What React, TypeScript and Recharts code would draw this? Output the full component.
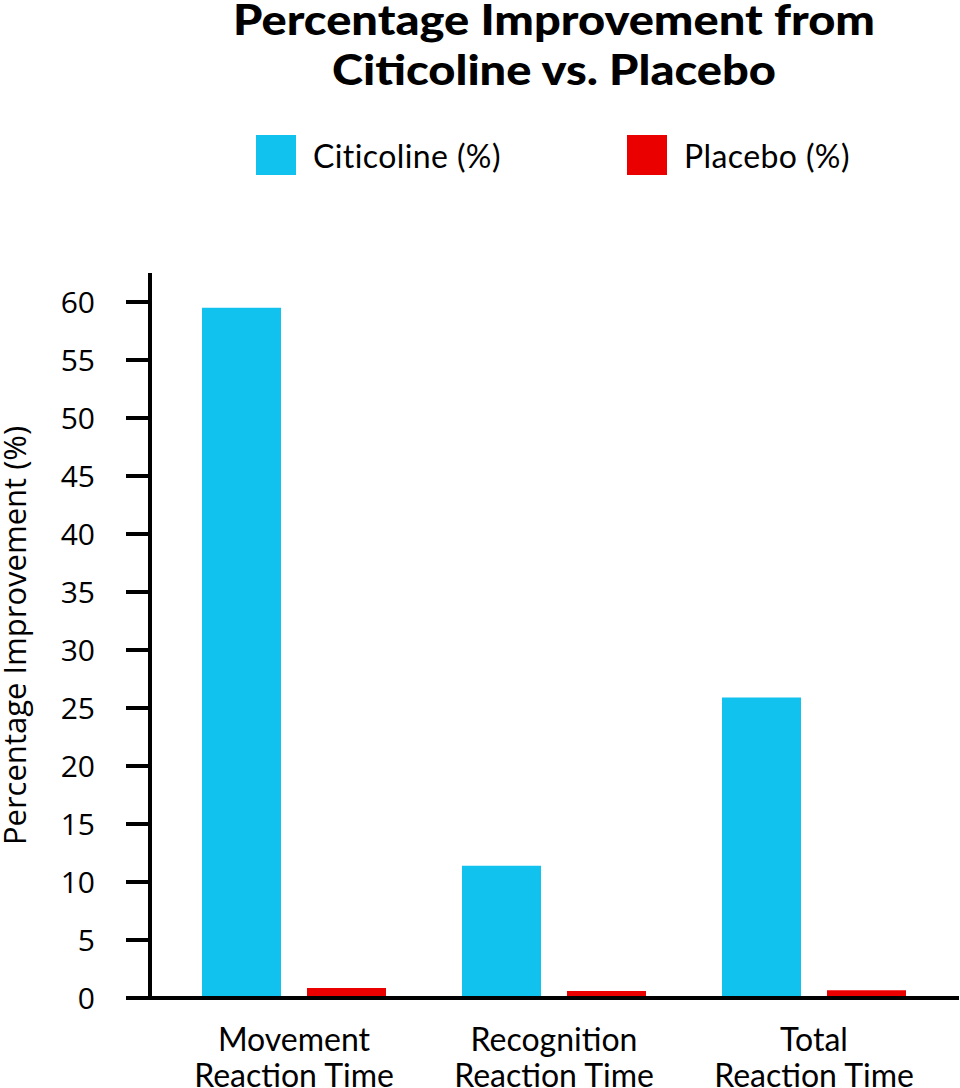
import React from 'react';
import { BarChart, Bar, XAxis, YAxis } from 'recharts';

const titleLines = ['Percentage Improvement from', 'Citicoline vs. Placebo'];
const categories = ['Movement\nReaction Time', 'Recognition\nReaction Time', 'Total\nReaction Time'];
const citicolineValues = [59.5, 11.4, 25.9];
const placeboValues = [0.86, 0.6, 0.66];
const yTicks = [0, 5, 10, 15, 20, 25, 30, 35, 40, 45, 50, 55, 60];
const seriesNames = ['Citicoline (%)', 'Placebo (%)'];
const seriesColors = ['#12C2EE', '#EB0000'];

const data = categories.map((c, i) => ({
  category: c,
  citicoline: citicolineValues[i],
  placebo: placeboValues[i],
}));

const XTick = (props: any) => {
  const { x, payload } = props;
  const lines = String(payload.value).split('\n');
  return (
    <g>
      {lines.map((l: string, i: number) => (
        <text
          key={i}
          x={x}
          y={1051 + i * 36}
          textAnchor="middle"
          fontFamily="Lato, sans-serif"
          fontSize={32}
          fill="#000"
        >
          {l}
        </text>
      ))}
    </g>
  );
};

const YLabel = (props: any) => {
  const vb = props.viewBox || {};
  const cx = 14;
  const cy = (vb.y ?? 273) + (vb.height ?? 725) / 2;
  return (
    <text
      x={cx}
      y={cy}
      transform={`rotate(-90, ${cx}, ${cy})`}
      textAnchor="middle"
      dominantBaseline="central"
      fontFamily="Open Sans, sans-serif"
      fontSize={31}
      fill="#000"
    >
      Percentage Improvement (%)
    </text>
  );
};

const titleWidths = [642, 444];

export default function App() {
  return (
    <div
      style={{
        position: 'absolute',
        left: 0,
        top: 0,
        width: 960,
        height: 1088,
        background: '#fff',
        overflow: 'hidden',
      }}
    >
      <svg width={960} height={110} style={{ position: 'absolute', left: 0, top: 0 }}>
        {titleLines.map((t, i) => (
          <text
            key={t}
            x={554}
            y={35 + i * 50}
            textAnchor="middle"
            fontFamily="Lato, sans-serif"
            fontWeight={900}
            fontSize={42}
            fill="#000"
            textLength={titleWidths[i]}
            lengthAdjust="spacingAndGlyphs"
          >
            {t}
          </text>
        ))}
      </svg>
      {seriesNames.map((n, i) => (
        <div
          key={n}
          style={{
            position: 'absolute',
            left: 256 + i * 371,
            top: 135,
            height: 40,
            display: 'flex',
            alignItems: 'center',
            fontFamily: 'Lato, sans-serif',
            fontSize: 32,
            letterSpacing: 0.4,
            color: '#000',
            whiteSpace: 'nowrap',
          }}
        >
          <span
            style={{
              display: 'inline-block',
              width: 40,
              height: 40,
              background: seriesColors[i],
              marginRight: 17,
            }}
          />
          {n}
        </div>
      ))}
      <div style={{ position: 'absolute', left: 0, top: 0 }}>
        <BarChart
          width={960}
          height={1088}
          data={data}
          margin={{ top: 273, right: 1, bottom: 0, left: 0 }}
          barCategoryGap={38}
          barGap={26}
        >
          <XAxis
            dataKey="category"
            height={90}
            padding={{ left: 14, right: 15 }}
            axisLine={{ stroke: '#000', strokeWidth: 4 }}
            tickLine={false}
            tick={<XTick />}
            interval={0}
          />
          <YAxis
            width={150}
            domain={[0, 62.5]}
            ticks={yTicks}
            interval={0}
            tickSize={24}
            tickMargin={31}
            axisLine={{ stroke: '#000', strokeWidth: 4 }}
            tickLine={{ stroke: '#000', strokeWidth: 4 }}
            tick={{ fill: '#000', fontSize: 30, fontFamily: 'Open Sans, sans-serif' }}
            label={<YLabel />}
          />
          <Bar dataKey="citicoline" name={seriesNames[0]} fill={seriesColors[0]} isAnimationActive={false} />
          <Bar dataKey="placebo" name={seriesNames[1]} fill={seriesColors[1]} isAnimationActive={false} />
        </BarChart>
      </div>
    </div>
  );
}
